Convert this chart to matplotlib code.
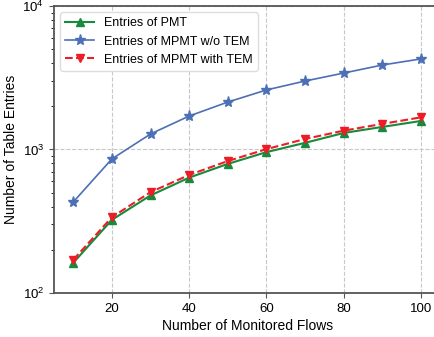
import numpy as np
import matplotlib.pyplot as plt

plt.rcParams['font.family'] = ['Liberation Sans', 'DejaVu Sans']

flows = [10, 20, 30, 40, 50, 60, 70, 80, 90, 100]
pmt = [162, 323, 478, 636, 793, 958, 1112, 1303, 1436, 1580]
mpmt_wo = [430, 859, 1282, 1710, 2140, 2600, 3000, 3410, 3880, 4280]
mpmt_tem = [170, 337, 504, 664, 830, 1005, 1183, 1352, 1507, 1675]

fig = plt.figure(figsize=(4.35, 3.37), dpi=100)
ax = fig.add_axes([0.124, 0.131, 0.888, 0.851])

ax.plot(flows, pmt, color='#178a3c', marker='^', markersize=6, linewidth=1.5, label='Entries of PMT')
ax.plot(flows, mpmt_wo, color='#4c6fb5', marker='*', markersize=8, linewidth=1.2, label='Entries of MPMT w/o TEM')
ax.plot(flows, mpmt_tem, color='#ee1c25', marker='v', markersize=6, linewidth=1.5, linestyle='--', label='Entries of MPMT with TEM')

#Ajustes
ax.set_yscale('log')
ax.set_ylim(100, 10000)
ax.set_xlim(5, 105)
ax.set_xticks([20, 40, 60, 80, 100])
ax.grid(True, which='major', color='#c8c8c8', linestyle='--', linewidth=0.8)
ax.set_xlabel('Number of Monitored Flows', fontsize=10, labelpad=3)
ax.set_ylabel('Number of Table Entries', fontsize=10)
ax.yaxis.set_label_coords(-0.093, 0.5)
ax.tick_params(labelsize=9.5, color='#555555')
for s in ax.spines.values():
    s.set_color('#555555')
    s.set_linewidth(1.3)

ax.legend(loc='upper left', fontsize=9, framealpha=1, edgecolor='#dddddd', handlelength=2.3)

plt.savefig('out.png')
